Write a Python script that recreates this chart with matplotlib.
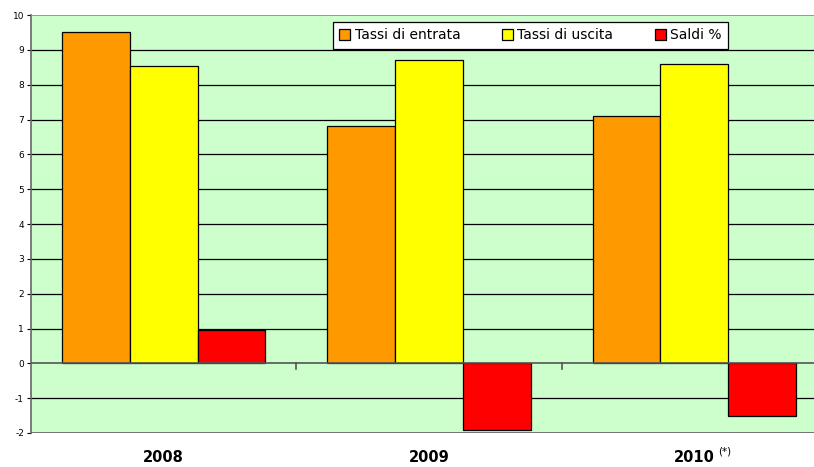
import numpy as np
import matplotlib
matplotlib.use('Agg')
import matplotlib.pyplot as plt
import matplotlib.transforms as mtransforms

plt.rcParams['axes.unicode_minus'] = False

years = ['2008', '2009', '2010']
tassi_entrata = [9.5, 6.8, 7.1]
tassi_uscita = [8.55, 8.7, 8.6]
saldi = [0.97, -1.92, -1.5]
series_names = ['Tassi di entrata', 'Tassi di uscita', 'Saldi %']
colors = ['#FF9900', '#FFFF00', '#FF0000']

W, H = 814, 467
fig = plt.figure(figsize=(W / 100, H / 100), dpi=100)
ax = fig.add_axes([31 / W, (H - 433) / H, (827 - 31) / W, (433 - 15) / H])
ax.set_facecolor('#CCFFCC')

x = np.arange(len(years))
w = 0.2555
for i, (vals, c) in enumerate(zip([tassi_entrata, tassi_uscita, saldi], colors)):
    ax.bar(x + (i - 1) * w, vals, w, color=c, edgecolor='black', linewidth=0.9,
           label=series_names[i], zorder=3)

ax.set_xlim(-0.5, 2.5)
ax.set_ylim(-2, 10)
ax.set_yticks(range(-2, 11))
ax.tick_params(axis='y', labelsize=6.5, length=3, width=0.8, colors='black', pad=2)

# gridlines
for v in range(-1, 10):
    if v != 0:
        ax.axhline(v, color='black', linewidth=0.9, zorder=1)
ax.axhline(0, color='#555555', linewidth=1.2, zorder=4)
ax.axhline(-2, color='#666666', linewidth=2, zorder=4)
ax.axhline(10, color='#888888', linewidth=1.2, zorder=4)

# category separators ticks on zero line
for s in [0.5, 1.5]:
    ax.plot([s, s], [0, -0.15], color='#555555', linewidth=1.2, zorder=4, clip_on=False)

for sp in ['top', 'right', 'bottom']:
    ax.spines[sp].set_visible(False)
ax.spines['left'].set_color('#666666')
ax.spines['left'].set_linewidth(1.2)
ax.set_xticks([])

trans = mtransforms.blended_transform_factory(ax.transData, fig.transFigure)
for xi, yr in zip(x, years):
    ax.text(xi, (H - 458) / H, yr, transform=trans, ha='center', va='center',
            fontsize=10.5, fontweight='bold')
ax.text(2.116, (H - 451) / H, '(*)', transform=trans, ha='center', va='center', fontsize=7.5)

leg = fig.legend(loc='upper left', bbox_to_anchor=(333 / W, 1 - 22 / H), ncol=3,
                 fontsize=10, frameon=True, fancybox=False, edgecolor='black',
                 framealpha=1, handlelength=0.8, handleheight=0.8, handletextpad=0.3,
                 columnspacing=3.0, borderpad=0.45, borderaxespad=0)
leg.get_frame().set_linewidth(0.9)
leg.get_frame().set_facecolor('white')

fig.savefig('out.png', dpi=100)
